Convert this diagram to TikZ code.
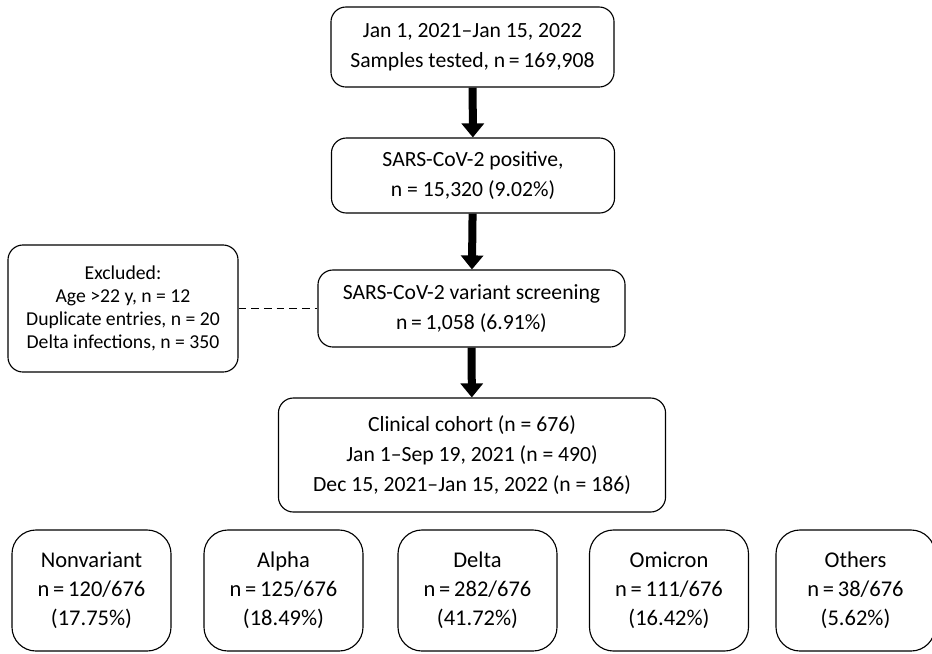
\documentclass[tikz,border=0pt]{standalone}
\usepackage{fontspec}
\setmainfont{Carlito}
\usepackage{tikz}
\usetikzlibrary{arrows.meta,positioning}

\tikzset{
  flowbox/.style={draw,rounded corners=0.375cm,align=center,inner sep=0pt,
    font=\fontsize{15.4}{21.3}\selectfont,line width=0.8pt},
  groupbox/.style={flowbox,rounded corners=0.6cm,minimum width=3.975cm,minimum height=3.025cm,
    font=\fontsize{16}{20.6}\selectfont},
  bigarrow/.style={line width=0.2cm,-{Triangle[width=0.55cm,length=0.35cm]}},
}

\begin{document}
\begin{tikzpicture}[x=0.025cm,y=-0.025cm]
  \useasboundingbox (0,0) rectangle (932,653);
  % main column
  \node[flowbox,minimum width=7.075cm,minimum height=2cm] (tested) at (472.5,47)
    {Jan 1, 2021--Jan 15, 2022\\Samples tested, n\,=\,169,908};
  \node[flowbox,minimum width=7.075cm,minimum height=1.875cm] (positive) at (473,175.5)
    {SARS-CoV-2 positive,\\n = 15,320 (9.02\%)};
  \node[flowbox,minimum width=7.675cm,minimum height=1.925cm] (screening) at (471.5,308.5)
    {SARS-CoV-2 variant screening\\n\,=\,1,058 (6.91\%)};
  \node[flowbox,minimum width=5.75cm,minimum height=3.175cm,font=\fontsize{14}{16.3}\selectfont] (excluded) at (123,308.5)
    {Excluded:\\Age >22 y, n = 12\\Duplicate entries, n = 20\\Delta infections, n = 350};
  \node[flowbox,minimum width=9.675cm,minimum height=2.85cm] (cohort) at (472,455)
    {Clinical cohort (n = 676)\\Jan 1--Sep 19, 2021 (n = 490)\\Dec 15, 2021--Jan 15, 2022 (n = 186)};
  % variant groups
  \node[groupbox] (nonvariant) at (91.5,590.5) {Nonvariant\\n\,=\,120/676\\(17.75\%)};
  \node[groupbox] (alpha) at (283.5,590.5) {Alpha\\n\,=\,125/676\\(18.49\%)};
  \node[groupbox] (delta) at (477.5,590.5) {Delta\\n\,=\,282/676\\(41.72\%)};
  \node[groupbox] (omicron) at (669,590.5) {Omicron\\n\,=\,111/676\\(16.42\%)};
  \node[groupbox] (others) at (855.5,590.5) {Others\\n\,=\,38/676\\(5.62\%)};
  % connectors
  \draw[bigarrow] (tested) -- (positive);
  \draw[bigarrow] (positive) -- (screening);
  \draw[bigarrow] (screening) -- (cohort);
  \draw[dash pattern=on 5.5pt off 3.5pt,line width=0.8pt] (excluded) -- (screening);
\end{tikzpicture}
\end{document}
